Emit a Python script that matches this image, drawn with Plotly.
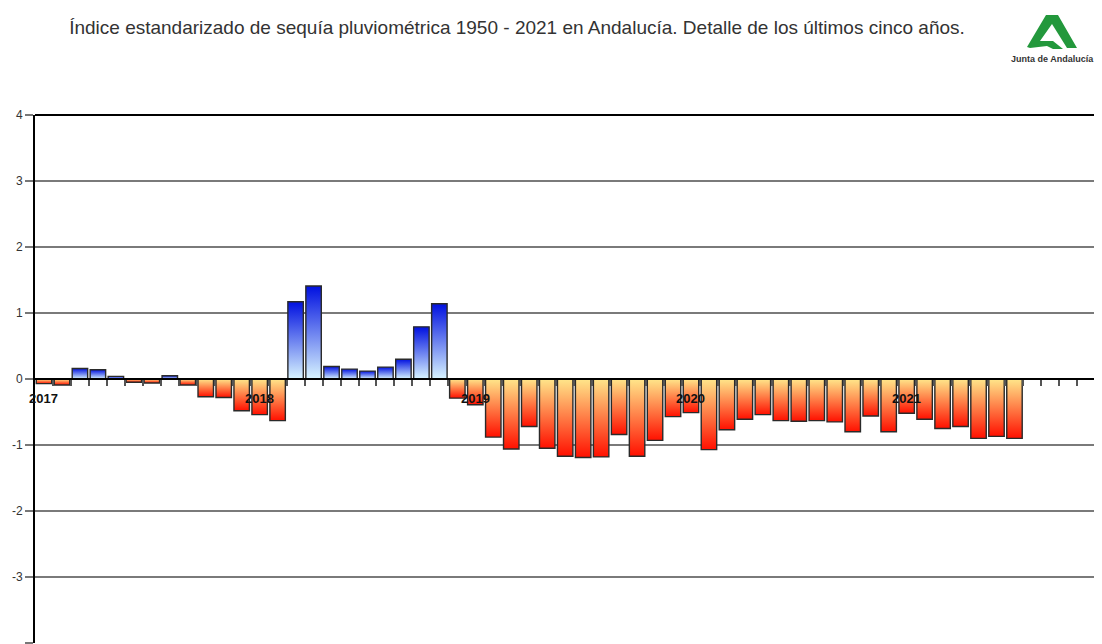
import plotly.graph_objects as go

# ---- data ----
years = ["2017", "2018", "2019", "2020", "2021"]
months_per_year = 12
total_slots = 60
values_2017 = [-0.07, -0.09, 0.16, 0.14, 0.04, -0.05, -0.06, 0.05, -0.09, -0.27, -0.28, -0.48]
values_2018 = [-0.54, -0.63, 1.17, 1.41, 0.19, 0.15, 0.12, 0.18, 0.30, 0.79, 1.14, -0.29]
values_2019 = [-0.39, -0.88, -1.06, -0.72, -1.05, -1.17, -1.19, -1.18, -0.84, -1.17, -0.93, -0.57]
values_2020 = [-0.51, -1.07, -0.77, -0.61, -0.54, -0.63, -0.64, -0.63, -0.65, -0.80, -0.56, -0.80]
values_2021 = [-0.52, -0.61, -0.75, -0.72, -0.90, -0.87, -0.90]
values = values_2017 + values_2018 + values_2019 + values_2020 + values_2021
y_ticks = [-4, -3, -2, -1, 0, 1, 2, 3, 4]
y_tick_text = [str(t) for t in y_ticks]

title = "Índice estandarizado de sequía pluviométrica 1950 - 2021 en Andalucía. Detalle de los últimos cinco años."

# page body has an 8px margin; compensate so the picture lines up with the window
O = 8
W, H = 1102 - O, 644 - O
ML, MR, MT, MB = 35 - O, 0, 115 - O, 1
bar_w = 0.86

fig = go.Figure()

for i, v in enumerate(values):
    x0, x1 = i - bar_w / 2, i + bar_w / 2
    if v >= 0:
        cs = [[0, "#d8f4ff"], [1, "#0010e0"]]
        start, stop = 0, v
    else:
        cs = [[0, "#ff1000"], [1, "#ffe68a"]]
        start, stop = v, 0
    fig.add_trace(go.Scatter(
        x=[x0, x0, x1, x1, x0], y=[0, v, v, 0, 0],
        mode="lines", fill="toself",
        fillgradient=dict(type="vertical", colorscale=cs, start=start, stop=stop),
        line=dict(color="#2a2a2a", width=1.4),
        hoverinfo="skip", showlegend=False,
    ))

# year labels
for k, yr in enumerate(years):
    fig.add_annotation(x=k * months_per_year, y=0, xref="x", yref="y", text="<b>" + yr + "</b>",
                       showarrow=False, yshift=-19,
                       font=dict(family="Liberation Sans, Arial", size=13, color="#111"))

fig.update_layout(
    width=W, height=H,
    margin=dict(l=ML, r=MR, t=MT, b=MB, autoexpand=False),
    paper_bgcolor="white", plot_bgcolor="white",
    showlegend=False,
    title=dict(text=title, x=(517 - O) / W, xanchor="center", y=1 - (27 - O) / H, yanchor="middle",
               font=dict(family="Liberation Sans, Arial", size=19, color="#333")),
    xaxis=dict(range=[-0.5, 58.87], showgrid=False, zeroline=False, automargin=False,
               tickmode="array", tickvals=[k + 0.5 for k in range(total_slots)],
               ticks="outside", ticklen=6, tickcolor="#555", tickwidth=1.5,
               showticklabels=False, showline=True, linecolor="#000", linewidth=1.5,
               anchor="free", position=0.5),
    yaxis=dict(range=[-4, 4], tickmode="array", tickvals=y_ticks, ticktext=y_tick_text,
               automargin=False,
               showgrid=True, gridcolor="#7a7a7a", gridwidth=1.5,
               zeroline=True, zerolinecolor="#000", zerolinewidth=1.5,
               ticks="outside", ticklen=8, tickcolor="#777", tickwidth=1.5,
               showline=True, linecolor="#000", linewidth=2,
               tickfont=dict(family="Liberation Sans, Arial", size=12, color="#333")),
)

# top border line
fig.add_shape(type="line", xref="paper", yref="paper", x0=0, x1=1, y0=1, y1=1,
              line=dict(color="#000", width=2))

# logo (decoration), positions given in window pixels
pw, ph = W - ML - MR, H - MT - MB
def px(x):
    return (x - O - ML) / pw
def py(y):
    return (H - MB - (y - O)) / ph

pts = [(1046, 15), (1058, 15), (1077, 48), (1067, 48), (1052, 24), (1040, 41),
       (1053, 41), (1063, 49), (1053, 49), (1047, 46), (1030, 48), (1027, 47)]
path = "M " + " L ".join(f"{px(a):.5f},{py(b):.5f}" for a, b in pts) + " Z"
fig.add_shape(type="path", xref="paper", yref="paper", path=path,
              fillcolor="#23983c", line=dict(width=0))
fig.add_annotation(xref="paper", yref="paper", x=px(1052), y=py(59), text="<b>Junta de Andalucía</b>",
                   showarrow=False, xanchor="center", yanchor="middle",
                   font=dict(family="Liberation Sans, Arial", size=9, color="#333"))

fig.write_html("out.html")
